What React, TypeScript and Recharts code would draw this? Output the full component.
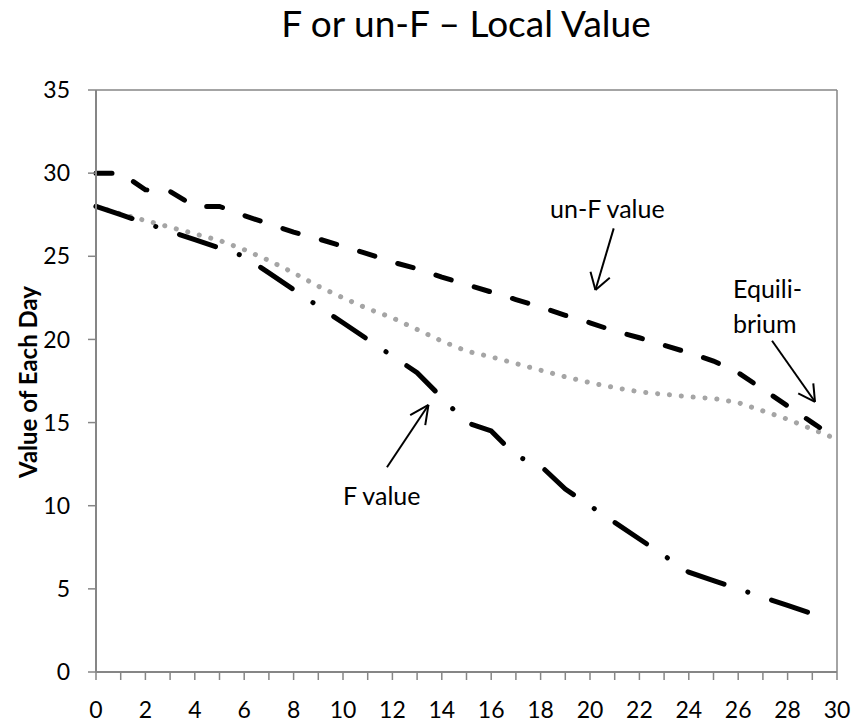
import { LineChart, Line, XAxis, YAxis, ReferenceLine, Customized } from 'recharts';

const days = [0, 1, 2, 3, 4, 5, 6, 7, 8, 9, 10, 11, 12, 13, 14, 15, 16, 17, 18, 19, 20, 21, 22, 23, 24, 25, 26, 27, 28, 29, 30];

const unFValue = [30, 30, 29, 28.9, 28, 28, 27.45, 26.95, 26.45, 26.05, 25.6, 25.15, 24.65, 24.25, 23.75, 23.3, 22.85, 22.4, 21.95, 21.45, 21, 20.5, 20.1, 19.65, 19.2, 18.7, 18, 17, 16, 15, 14];

const fValue = [28, 27.5, 27, 26.5, 26, 25.5, 25, 24, 23, 22, 21, 20, 19, 18, 16.5, 15, 14.5, 13, 12.4, 11, 10, 9, 8, 7, 6, 5.5, 5, 4.5, 4, 3.5, null];

const equilibrium = [28, 27.55, 27.15, 26.75, 26.35, 25.95, 25.4, 24.75, 24.0, 23.2, 22.5, 21.85, 21.3, 20.6, 19.9, 19.3, 18.95, 18.55, 18.15, 17.75, 17.4, 17.1, 16.85, 16.7, 16.55, 16.45, 16.2, 15.7, 15.2, 14.6, 14.0];

const yTicks = [0, 5, 10, 15, 20, 25, 30, 35];

// annotation arrows in data units: tail, tip, two head ends
const arrows = [
  { tail: [20.96, 26.68], tip: [20.22, 22.97], h1: [20.02, 24.07], h2: [20.8, 23.71] },
  { tail: [27.37, 19.92], tip: [29.11, 16.25], h1: [28.43, 16.76], h2: [29.04, 17.36] },
  { tail: [11.78, 12.31], tip: [13.46, 16.06], h1: [12.72, 15.45], h2: [13.33, 14.85] },
];

const chartData = days.map((day, i) => ({
  day,
  unF: unFValue[i],
  f: fValue[i],
  eq: equilibrium[i],
}));

const FONT = 'Lato, "Open Sans", sans-serif';
const AXIS = '#868686';

const pt = (p: number[]) => ({ x: p[0], y: p[1] });

function XTick(props: any) {
  const { x, y, payload } = props;
  if (payload.value % 2 !== 0) return <g />;
  return (
    <text x={x} y={y} dy="0.71em" textAnchor="middle" fontSize={23} fontFamily={FONT} fill="#000">
      {payload.value}
    </text>
  );
}

function Labels() {
  return (
    <g fontFamily={FONT} fill="#000">
      <text x={466} y={37} textAnchor="middle" fontSize={37}>F or un-F – Local Value</text>
      <text x={37} y={382} textAnchor="middle" fontSize={24} fontWeight="bold" transform="rotate(-90 37 382)">
        Value of Each Day
      </text>
      <text x={550} y={218} fontSize={25}>un-F value</text>
      <text x={733} y={298} fontSize={25}>Equili-</text>
      <text x={733} y={333} fontSize={25}>brium</text>
      <text x={343} y={505} fontSize={25}>F value</text>
    </g>
  );
}

export default function App() {
  return (
    <div style={{ position: 'absolute', left: 0, top: 0, width: 854, height: 725, background: '#fff' }}>
      <LineChart width={854} height={725} data={chartData} margin={{ top: 90, right: 17, bottom: 0, left: 0 }}>
        <XAxis
          dataKey="day"
          type="number"
          domain={[0, 30]}
          ticks={days}
          interval={0}
          height={53}
          axisLine={{ stroke: AXIS, strokeWidth: 2 }}
          tickLine={{ stroke: AXIS, strokeWidth: 1.5 }}
          tickSize={8}
          tickMargin={22}
          tick={<XTick />}
        />
        <YAxis
          type="number"
          domain={[0, 35]}
          ticks={yTicks}
          interval={0}
          width={96}
          axisLine={{ stroke: AXIS, strokeWidth: 2 }}
          tickLine={{ stroke: AXIS, strokeWidth: 1.5 }}
          tickSize={8}
          tickMargin={18}
          tick={{ fontSize: 23, fill: '#000', fontFamily: FONT }}
        />
        <ReferenceLine y={35} stroke={AXIS} strokeWidth={1.5} />
        <ReferenceLine x={30} stroke={AXIS} strokeWidth={1.5} />
        <Line
          dataKey="eq"
          type="linear"
          stroke="#a5a5a5"
          strokeWidth={5}
          strokeDasharray="0.1 11.8"
          strokeLinecap="round"
          dot={false}
          isAnimationActive={false}
        />
        <Line
          dataKey="unF"
          type="linear"
          stroke="#000"
          strokeWidth={5}
          strokeDasharray="16 24"
          strokeLinecap="round"
          dot={false}
          isAnimationActive={false}
        />
        <Line
          dataKey="f"
          type="linear"
          stroke="#000"
          strokeWidth={5}
          strokeDasharray="38 25 0.1 25"
          strokeLinecap="round"
          dot={false}
          isAnimationActive={false}
        />
        {arrows.map((a, i) => [
          <ReferenceLine key={`s${i}`} segment={[pt(a.tail), pt(a.tip)]} stroke="#000" strokeWidth={2} />,
          <ReferenceLine key={`a${i}`} segment={[pt(a.h1), pt(a.tip)]} stroke="#000" strokeWidth={2} />,
          <ReferenceLine key={`b${i}`} segment={[pt(a.h2), pt(a.tip)]} stroke="#000" strokeWidth={2} />,
        ])}
        <Customized component={<Labels />} />
      </LineChart>
    </div>
  );
}
